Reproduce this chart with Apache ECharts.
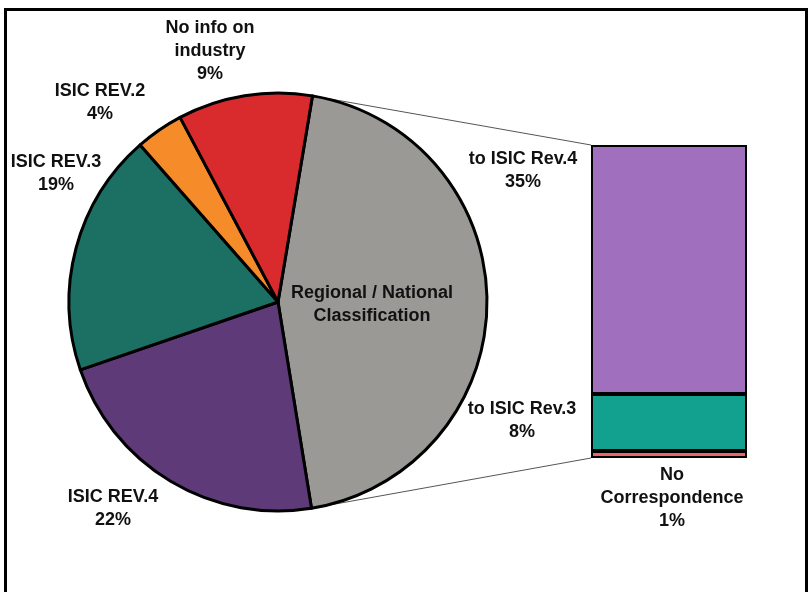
<!DOCTYPE html>
<html><head><meta charset="utf-8">
<script src="https://cdn.jsdelivr.net/npm/echarts@6/dist/echarts.min.js"></script>
<style>html,body{margin:0;padding:0;background:#fff}#c{width:810px;height:592px}</style>
</head><body><div id="c"></div>
<script>
// Pie data (clockwise from the split edge)
var pieNames = ['Regional / National\nClassification', 'ISIC REV.4', 'ISIC REV.3', 'ISIC REV.2', 'No info on\nindustry'];
var pieValues = [44.8, 22.3, 18.8, 3.7, 10.4];
var pieLabels = ['', '22%', '19%', '4%', '9%'];
var pieColors = ['#9a9995', '#5e3b78', '#1b7063', '#f68b2a', '#d92b2d'];
// Bar (breakdown of Regional / National Classification)
var barNames = ['No\nCorrespondence', 'to ISIC Rev.3', 'to ISIC Rev.4'];
var barValues = [1, 8, 35];
var barLabels = ['1%', '8%', '35%'];
var barColors = ['#e8686a', '#12a08f', '#a070bf'];

var PIE_C = [278, 302], PIE_R = 209, START = 80.5;
var pieLabelPos = [[372, 305], [113, 509], [56, 174], [100, 103], [210, 51]];
var barLabelPos = [[672, 498], [522, 421], [523, 171]];
var FONT = 'Liberation Sans';
var FS = 18;

var chart = echarts.init(document.getElementById('c'), null, {renderer: 'canvas'});
var barSeries = barValues.map(function (v, i) {
  return {
    type: 'bar', stack: 's', barWidth: '100%', z: 3,
    data: [v],
    itemStyle: {color: barColors[i], borderColor: '#000', borderWidth: 2},
    label: {
      show: true, position: 'inside', color: '#111', fontFamily: FONT, fontWeight: 'bold', fontSize: FS, lineHeight: 23, align: 'center', overflow: 'none',
      formatter: function () { return barNames[i] + '\n' + barLabels[i]; }
    },
    labelLayout: function () { return {x: barLabelPos[i][0], y: barLabelPos[i][1], align: 'center', verticalAlign: 'middle'}; }
  };
});
var option = {
  animation: false,
  grid: {left: 591, top: 145, width: 156, height: 313},
  xAxis: {type: 'category', data: ['x'], show: false},
  yAxis: {type: 'value', min: 0, max: 44, show: false},
  series: [{
    type: 'pie', center: PIE_C, radius: PIE_R, startAngle: START, clockwise: true,
    data: pieValues.map(function (v, i) { return {value: v, name: pieNames[i], itemStyle: {color: pieColors[i]}}; }),
    itemStyle: {borderColor: '#000', borderWidth: 3},
    labelLine: {show: false},
    label: {
      show: true, position: 'inside', color: '#111', fontFamily: FONT, fontWeight: 'bold', fontSize: FS, lineHeight: 23, align: 'center', overflow: 'none',
      formatter: function (p) { return pieLabels[p.dataIndex] ? p.name + '\n' + pieLabels[p.dataIndex] : p.name; }
    },
    labelLayout: function (p) { var q = pieLabelPos[p.dataIndex]; return {x: q[0], y: q[1], align: 'center', verticalAlign: 'middle'}; }
  }].concat(barSeries)
};
chart.setOption(option);

// connector lines from the Regional slice edges to the bar corners
var total = pieValues.reduce(function (a, b) { return a + b; }, 0);
var a1 = START * Math.PI / 180;
var a2 = (START - 360 * pieValues[0] / total) * Math.PI / 180;
var p1 = [PIE_C[0] + PIE_R * Math.cos(a1), PIE_C[1] - PIE_R * Math.sin(a1)];
var p2 = [PIE_C[0] + PIE_R * Math.cos(a2), PIE_C[1] - PIE_R * Math.sin(a2)];
var barSum = barValues.reduce(function (a, b) { return a + b; }, 0);
var topY = chart.convertToPixel({yAxisIndex: 0}, barSum);
var botY = chart.convertToPixel({yAxisIndex: 0}, 0);
var rect = chart.getModel().getComponent('grid').coordinateSystem.getRect();
chart.setOption({graphic: [
  {type: 'line', shape: {x1: p1[0], y1: p1[1], x2: rect.x, y2: topY}, style: {stroke: '#555', lineWidth: 1}, z: 1},
  {type: 'line', shape: {x1: p2[0], y1: p2[1], x2: rect.x, y2: botY}, style: {stroke: '#555', lineWidth: 1}, z: 1},
  {type: 'rect', shape: {x: 5.5, y: 9.5, width: 801, height: 600}, style: {fill: 'none', stroke: '#000', lineWidth: 3}, z: 10}
]});
</script></body></html>
